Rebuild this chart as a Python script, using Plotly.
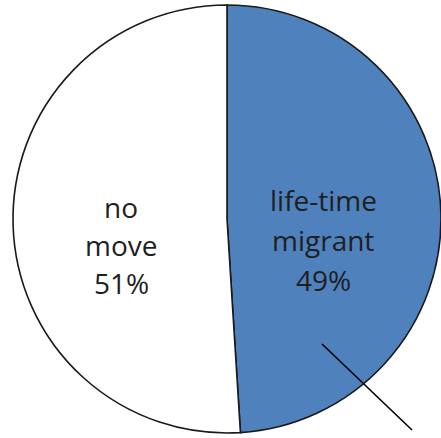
import plotly.graph_objects as go

# Data
labels = ["life-time migrant", "no move"]
label_lines = [["life-time", "migrant"], ["no", "move"]]
values = [49, 51]
colors = ["#4F81BD", "#FFFFFF"]

W, H = 441, 438

fig = go.Figure()
fig.add_trace(go.Pie(
    labels=labels,
    values=values,
    sort=False,
    direction="clockwise",
    rotation=0,
    marker=dict(colors=colors, line=dict(color="#1a1a1a", width=1.6)),
    textinfo="none",
    hoverinfo="label+percent",
    domain=dict(x=[13 / W, 1.0], y=[1 - 433 / H, 1 - 5 / H]),
    showlegend=False,
))

total = sum(values)
# pixel center x and first-line center y for each text block, line step
label_pos = [(323, 200, 40), (121, 207, 38)]
for lines, v, (px, py, step) in zip(label_lines, values, label_pos):
    pct = round(100 * v / total)
    for i, t in enumerate(lines + [f"{pct}%"]):
        fig.add_annotation(
            x=px / W, y=1 - (py + i * step) / H, xref="paper", yref="paper",
            text=t, showarrow=False, xanchor="center", yanchor="middle",
            font=dict(family="Open Sans", size=28, color="#1f1f1f"),
        )

# leader line remnant
fig.add_shape(type="line", xref="paper", yref="paper",
              x0=322 / W, y0=1 - 344 / H, x1=412 / W, y1=1 - 430 / H,
              line=dict(color="#000000", width=1.6))

fig.update_layout(
    width=W, height=H,
    margin=dict(l=0, r=0, t=0, b=0),
    paper_bgcolor="white",
    plot_bgcolor="white",
)

fig.write_html("out.html", config={"displayModeBar": False},
               post_script="document.body.style.margin='0';")
